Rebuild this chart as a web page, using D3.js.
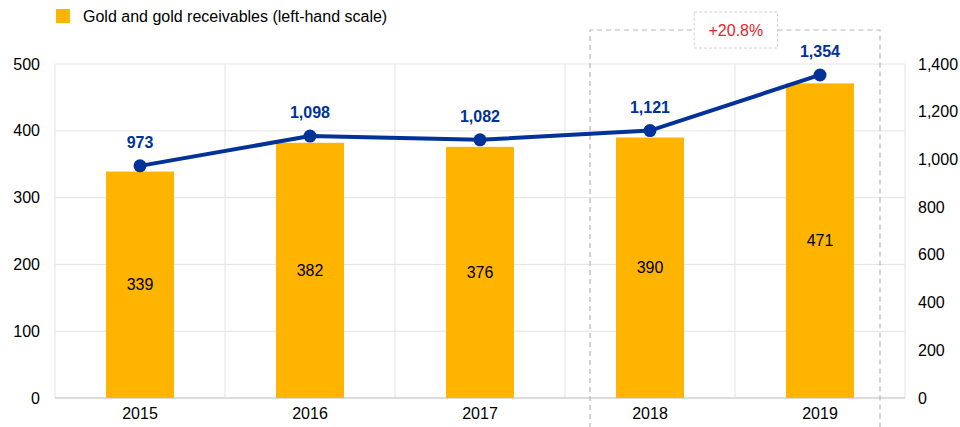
<!DOCTYPE html>
<html>
<head>
<meta charset="utf-8">
<script src="https://cdn.jsdelivr.net/npm/d3@7"></script>
<style>
  body { margin: 0; background: #fff; }
  svg { display: block; font-family: "Liberation Sans", Arial, sans-serif; }
</style>
</head>
<body>
<script>
// Data
const years = ["2015", "2016", "2017", "2018", "2019"];
const goldValues = [339, 382, 376, 390, 471];
const totalValues = [973, 1098, 1082, 1121, 1354];
const leftTicks = [0, 100, 200, 300, 400, 500];
const rightTicks = [0, 200, 400, 600, 800, 1000, 1200, 1400];
const legendLabel = "Gold and gold receivables (left-hand scale)";
const changeLabel = "+20.8%";

const W = 960, H = 427;
const margin = { top: 64, right: 55, bottom: 29, left: 55 };
const width = W - margin.left - margin.right;
const height = H - margin.top - margin.bottom;
const fs = "16px";

const svg = d3.select("body").append("svg")
    .attr("width", W)
    .attr("height", H);

const g = svg.append("g")
    .attr("transform", `translate(${margin.left},${margin.top})`);

const x = d3.scaleBand().domain(years).range([0, width]).padding(0);
const yLeft = d3.scaleLinear().domain([0, 500]).range([height, 0]);
const yRight = d3.scaleLinear().domain([0, 1400]).range([height, 0]);

// Gridlines
g.selectAll(".hgrid")
    .data(leftTicks)
    .enter().append("line")
    .attr("x1", 0).attr("x2", width)
    .attr("y1", d => yLeft(d)).attr("y2", d => yLeft(d))
    .attr("stroke", d => d === 0 ? "#d0d0d0" : "#e3e3e3")
    .attr("stroke-width", d => d === 0 ? 1.5 : 1);

const vEdges = years.map(d => x(d)).concat([width]);
g.selectAll(".vgrid")
    .data(vEdges)
    .enter().append("line")
    .attr("x1", d => d).attr("x2", d => d)
    .attr("y1", 0).attr("y2", height)
    .attr("stroke", "#e3e3e3");

// Left axis
const leftAxis = g.append("g").call(d3.axisLeft(yLeft).tickValues(leftTicks).tickSize(0).tickPadding(15));
leftAxis.select(".domain").remove();
leftAxis.selectAll("text").style("font-size", fs).attr("fill", "#000");

// Right axis
const rightAxis = g.append("g")
    .attr("transform", `translate(${width},0)`)
    .call(d3.axisRight(yRight).tickValues(rightTicks).tickSize(0).tickPadding(13).tickFormat(d3.format(",")));
rightAxis.select(".domain").remove();
rightAxis.selectAll("text").style("font-size", fs).attr("fill", "#000");

// Bottom axis
const bottomAxis = g.append("g")
    .attr("transform", `translate(0,${height})`)
    .call(d3.axisBottom(x).tickSize(0).tickPadding(10));
bottomAxis.select(".domain").remove();
bottomAxis.selectAll("text").style("font-size", fs).attr("fill", "#000");

// Bars
const barW = x.bandwidth() * 0.4;
g.selectAll(".bar")
    .data(goldValues)
    .enter().append("rect")
    .attr("x", (d, i) => x(years[i]) + (x.bandwidth() - barW) / 2)
    .attr("y", d => yLeft(d))
    .attr("width", barW)
    .attr("height", d => height - yLeft(d))
    .attr("fill", "#ffb400");

g.selectAll(".barlabel")
    .data(goldValues)
    .enter().append("text")
    .attr("x", (d, i) => x(years[i]) + x.bandwidth() / 2)
    .attr("y", d => (yLeft(d) + height) / 2)
    .attr("dy", "0.35em")
    .attr("text-anchor", "middle")
    .style("font-size", fs)
    .attr("fill", "#000")
    .text(d => d);

// Dashed highlight box around 2018-2019
const boxLeft = x("2018") + 25;
const boxRight = x("2019") + x.bandwidth() - 25;
const boxTop = -34;
const labelBox = { x0: x("2018") + x.bandwidth() * 0.76, x1: x("2019") + x.bandwidth() * 0.25, y0: -52, y1: -16 };
const boxColor = "#b5b5b5";
g.append("path")
    .attr("d", `M${boxLeft},${H} V${boxTop} H${labelBox.x0} M${labelBox.x1},${boxTop} H${boxRight} V${H}`)
    .attr("fill", "none")
    .attr("stroke", boxColor)
    .attr("stroke-width", 1.2)
    .attr("stroke-dasharray", "5,4");
g.append("rect")
    .attr("x", labelBox.x0).attr("y", labelBox.y0)
    .attr("width", labelBox.x1 - labelBox.x0).attr("height", labelBox.y1 - labelBox.y0)
    .attr("fill", "#fff")
    .attr("stroke", "#d0d0d0")
    .attr("stroke-dasharray", "3,2");
g.append("text")
    .attr("x", (labelBox.x0 + labelBox.x1) / 2)
    .attr("y", (labelBox.y0 + labelBox.y1) / 2)
    .attr("dy", "0.35em")
    .attr("text-anchor", "middle")
    .style("font-size", fs)
    .attr("fill", "#e8212b")
    .text(changeLabel);

// Line
const line = d3.line()
    .x((d, i) => x(years[i]) + x.bandwidth() / 2)
    .y(d => yRight(d));
g.append("path")
    .datum(totalValues)
    .attr("d", line)
    .attr("fill", "none")
    .attr("stroke", "#003299")
    .attr("stroke-width", 4);

g.selectAll(".pt")
    .data(totalValues)
    .enter().append("circle")
    .attr("cx", (d, i) => x(years[i]) + x.bandwidth() / 2)
    .attr("cy", d => yRight(d))
    .attr("r", 6.5)
    .attr("fill", "#003299");

g.selectAll(".ptlabel")
    .data(totalValues)
    .enter().append("text")
    .attr("x", (d, i) => x(years[i]) + x.bandwidth() / 2)
    .attr("y", d => yRight(d) - 18)
    .attr("text-anchor", "middle")
    .style("font-size", fs)
    .style("font-weight", "bold")
    .attr("fill", "#003299")
    .text(d => d3.format(",")(d));

// Legend
const legend = svg.append("g").attr("transform", "translate(56,9)");
legend.append("rect")
    .attr("width", 14).attr("height", 14)
    .attr("fill", "#ffb400");
legend.append("text")
    .attr("x", 27).attr("y", 7)
    .attr("dy", "0.35em")
    .style("font-size", fs)
    .attr("fill", "#000")
    .text(legendLabel);
</script>
</body>
</html>
